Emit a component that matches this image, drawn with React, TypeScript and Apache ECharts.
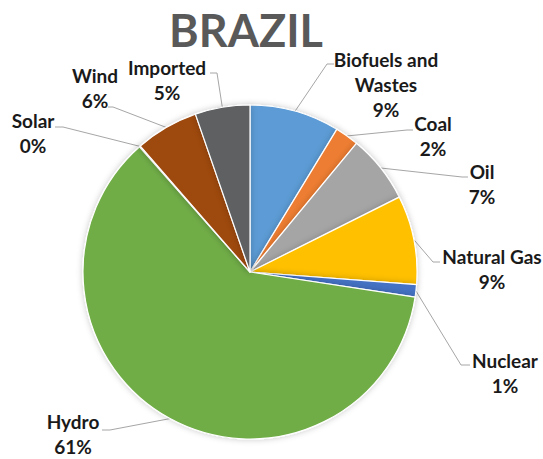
import React, { useEffect, useRef } from "react";
import * as echarts from "echarts";

const TITLE = "BRAZIL";
const CATEGORIES = [
  "Biofuels and Wastes",
  "Coal",
  "Oil",
  "Natural Gas",
  "Nuclear",
  "Hydro",
  "Solar",
  "Wind",
  "Imported",
];
const SHARES = [8.7, 2.3, 6.6, 8.6, 1.2, 61.1, 0.1, 6.1, 5.3];
const COLORS = [
  "#5B9BD5",
  "#ED7D31",
  "#A5A5A5",
  "#FFC000",
  "#4472C4",
  "#70AD47",
  "#264478",
  "#9E480E",
  "#5E6062",
];

// label placement (style only): label block centre, leader-line elbow, tail end x
const LABEL_LAYOUT = [
  { x: 386, y: 84, ex: 327, ey: 64, tx: 334 },
  { x: 433, y: 136, ex: 407, ey: 130, tx: 413 },
  { x: 482, y: 184, ex: 462, ey: 177, tx: 468 },
  { x: 492, y: 269, ex: 433, ey: 262, tx: 440 },
  { x: 505, y: 373, ex: 461, ey: 365, tx: 470 },
  { x: 73, y: 434, ex: 110, ey: 430, tx: 102 },
  { x: 33, y: 133, ex: 63, ey: 127, tx: 55 },
  { x: 95, y: 88, ex: 113, ey: 107, tx: 108 },
  { x: 167, y: 80, ex: 217, ey: 73, tx: 210 },
];

export default function App() {
  const ref = useRef<HTMLDivElement>(null);
  useEffect(() => {
    if (!ref.current) return;
    const chart = echarts.init(ref.current, null, { renderer: "svg" });
    chart.setOption({
      animation: false,
      backgroundColor: "#ffffff",
      title: {
        text: TITLE,
        left: 246,
        textAlign: "center",
        top: 11,
        padding: 0,
        textStyle: {
          fontFamily: "Lato",
          fontWeight: "bold",
          fontSize: 45,
          lineHeight: 38,
          color: "#595959",
        },
      },
      series: [
        {
          type: "pie",
          center: [250, 272],
          radius: 167,
          startAngle: 90,
          clockwise: true,
          percentPrecision: 0,
          avoidLabelOverlap: false,
          itemStyle: {
            borderColor: "#ffffff",
            borderWidth: 1.2,
            shadowBlur: 6,
            shadowColor: "rgba(0,0,0,0.22)",
          },
          label: {
            show: true,
            position: "outside",
            fontFamily: "Lato",
            fontWeight: "bold",
            fontSize: 19,
            lineHeight: 25,
            color: "#1a1a1a",
            formatter: (p: any) =>
              `${p.name.replace("and ", "and\n")}\n${p.percent}%`,
          },
          labelLine: {
            show: true,
            length: 10,
            length2: 10,
            lineStyle: { color: "#A6A6A6", width: 1 },
          },
          labelLayout: (params: any) => {
            const L = LABEL_LAYOUT[params.dataIndex];
            const a = params.labelLinePoints
              ? params.labelLinePoints[0]
              : [L.ex, L.ey];
            return {
              x: L.x,
              y: L.y,
              align: "center",
              verticalAlign: "middle",
              labelLinePoints: [
                [a[0], a[1]],
                [L.ex, L.ey],
                [L.tx, L.ey],
              ],
            };
          },
          data: CATEGORIES.map((name, i) => ({
            name,
            value: SHARES[i],
            itemStyle: { color: COLORS[i] },
          })),
        },
      ],
    });
    return () => chart.dispose();
  }, []);
  return (
    <div
      ref={ref}
      style={{
        position: "absolute",
        left: 0,
        top: 0,
        width: 543,
        height: 459,
        background: "#fff",
      }}
    />
  );
}
